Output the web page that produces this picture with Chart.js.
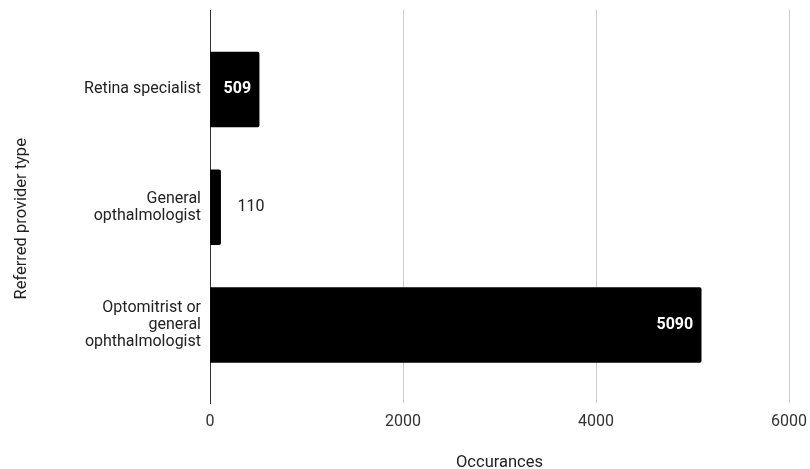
<!DOCTYPE html>
<html><head><meta charset="utf-8">
<script src="https://cdn.jsdelivr.net/npm/chart.js@4"></script>
<style>html,body{margin:0;padding:0;background:#fff}#wrap{width:810px;height:469px}</style>
</head><body><div id="wrap"><canvas id="c" width="810" height="469"></canvas></div>
<script>
const categories = [["Retina specialist"], ["General", "opthalmologist"], ["Optomitrist or", "general", "ophthalmologist"]];
const values = [509, 110, 5090];
const xTicks = [0, 2000, 4000, 6000];
const xTitle = "Occurances";
const yTitle = "Referred provider type";

const FONT = "Roboto";
const labelPlugin = {
  id: 'barLabels',
  afterDatasetsDraw(chart) {
    const ctx = chart.ctx;
    const meta = chart.getDatasetMeta(0);
    meta.data.forEach((bar, i) => {
      const text = String(values[i]);
      ctx.save();
      ctx.textBaseline = 'middle';
      const w = Math.abs(bar.x - bar.base);
      if (w > 40) {
        ctx.font = 'bold 16px ' + FONT;
        ctx.fillStyle = '#ffffff';
        ctx.textAlign = 'right';
        ctx.fillText(text, bar.x - 8, bar.y);
      } else {
        ctx.font = '16px ' + FONT;
        ctx.fillStyle = '#222222';
        ctx.textAlign = 'left';
        ctx.fillText(text, bar.x + 17, bar.y);
      }
      ctx.restore();
    });
  }
};

new Chart(document.getElementById('c'), {
  type: 'bar',
  data: {
    datasets: [{
      data: values.map((v, i) => ({x: v, y: i})),
      backgroundColor: '#000000',
      borderRadius: 2,
      borderSkipped: 'start',
      barThickness: 75
    }]
  },
  options: {
    indexAxis: 'y',
    responsive: false,
    animation: false,
    layout: {padding: {top: 10, right: 21, left: 0, bottom: 0}},
    plugins: {legend: {display: false}, tooltip: {enabled: false}},
    scales: {
      x: {
        type: 'linear',
        min: 0, max: 6000,
        afterBuildTicks: s => { s.ticks = xTicks.map(v => ({value: v})); },
        ticks: {color: '#333', font: {family: FONT, size: 16}, padding: 9, callback: v => String(v)},
        grid: {color: '#cccccc', drawTicks: false},
        border: {display: false},
        title: {display: true, text: xTitle, color: '#222', font: {family: FONT, size: 16.5}, padding: {top: 18, bottom: -4}},
        afterFit: s => { s.height = 66; s.paddingLeft = 0; s.paddingRight = 0; }
      },
      y: {
        type: 'linear',
        reverse: true,
        offset: false,
        min: -0.675, max: 2.662,
        afterBuildTicks: s => { s.ticks = categories.map((c, i) => ({value: i})); },
        ticks: {
          color: '#222', font: {family: FONT, size: 16, lineHeight: '17px'}, padding: 9,
          callback: (v) => categories[v]
        },
        grid: {display: false, offset: false, drawTicks: false},
        border: {display: true, color: '#333333', width: 1},
        title: {display: true, text: yTitle + "      ", color: '#222', font: {family: FONT, size: 16.5}, padding: {top: 12, bottom: 0}},
        afterFit: s => { s.width = 210; s.paddingTop = 0; s.paddingBottom = 0; }
      }
    }
  },
  plugins: [labelPlugin]
});
</script></body></html>
